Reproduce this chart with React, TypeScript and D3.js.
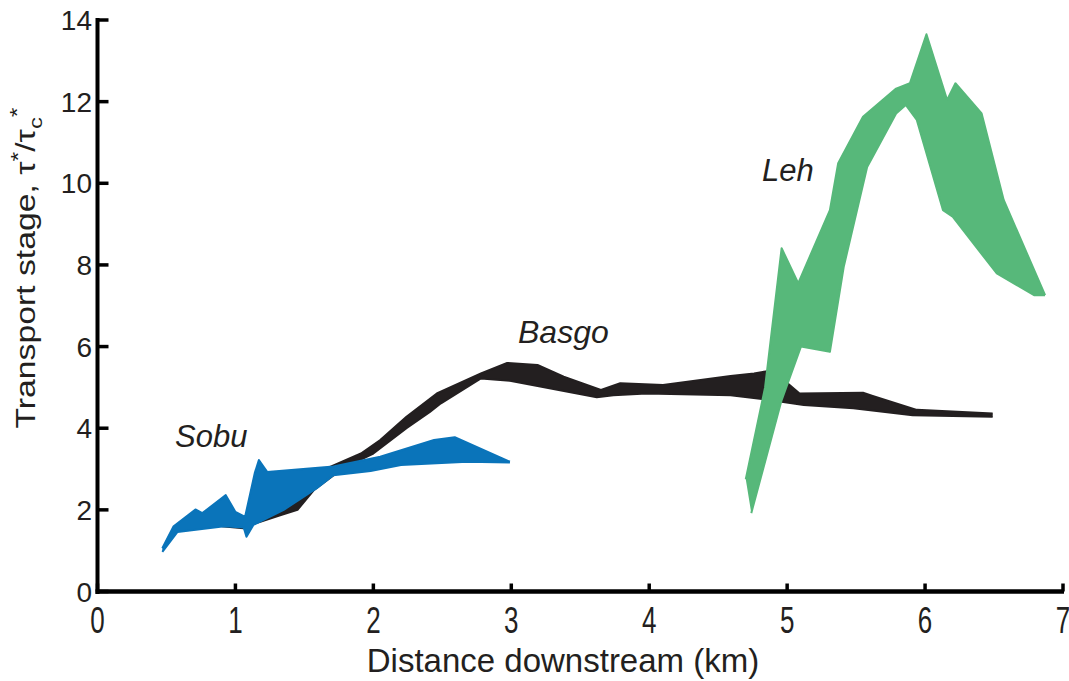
import React from "react";
import * as d3 from "d3";

// ---- data (km, transport stage) ----
const xTicks = [0, 1, 2, 3, 4, 5, 6, 7];
const yTicks = [0, 2, 4, 6, 8, 10, 12, 14];

// Sobu ensemble: first and last members
const sobuFirst: [number, number][] = [
  [0.47, 1.06], [0.55, 1.59], [0.71, 2.01], [0.76, 1.92], [0.93, 2.36], [1.0, 1.95],
  [1.07, 1.83], [1.14, 2.9], [1.17, 3.22], [1.23, 2.93], [1.71, 3.06], [2.05, 3.3],
  [2.44, 3.71], [2.59, 3.78], [2.99, 3.18],
];
const sobuLast: [number, number][] = [
  [0.47, 0.97], [0.58, 1.46], [0.92, 1.6], [1.06, 1.57], [1.08, 1.34], [1.13, 1.63],
  [1.35, 2.0], [1.59, 2.53], [1.71, 2.85], [1.98, 2.95], [2.2, 3.1], [2.68, 3.18],
  [2.99, 3.16],
];

// Basgo ensemble: upper and lower members
const basgoUpper: [number, number][] = [
  [0.9, 1.66], [1.05, 1.7], [1.2, 1.85], [1.45, 2.35], [1.69, 3.06], [1.91, 3.38],
  [2.05, 3.71], [2.24, 4.28], [2.46, 4.85], [2.78, 5.34], [2.97, 5.6], [3.19, 5.55],
  [3.38, 5.26], [3.65, 4.94], [3.79, 5.1], [4.1, 5.06], [4.59, 5.28], [4.76, 5.34],
  [4.88, 5.41], [4.99, 5.14], [5.09, 4.85], [5.55, 4.87], [5.62, 4.79], [5.94, 4.45],
  [6.49, 4.36],
];
const basgoLower: [number, number][] = [
  [0.9, 1.6], [1.06, 1.55], [1.11, 1.63], [1.18, 1.71], [1.33, 1.87], [1.45, 2.0],
  [1.57, 2.49], [1.78, 3.02], [2.0, 3.38], [2.24, 4.0], [2.41, 4.4], [2.49, 4.61],
  [2.78, 5.22], [2.99, 5.16], [3.21, 5.02], [3.62, 4.76], [3.74, 4.81], [3.98, 4.85],
  [4.59, 4.81], [4.88, 4.69], [4.96, 4.65], [5.12, 4.57], [5.48, 4.49], [5.91, 4.32],
  [6.49, 4.28],
];

// Leh ensemble: first and last members
const lehFirst: [number, number][] = [
  [4.7, 2.75], [4.84, 5.0], [4.96, 8.41], [5.08, 7.55], [5.31, 9.34], [5.37, 10.49],
  [5.55, 11.63], [5.79, 12.32], [5.89, 12.45], [6.01, 13.65], [6.16, 12.04],
  [6.22, 12.45], [6.41, 11.71], [6.57, 9.59], [6.87, 7.26],
];
const lehLast: [number, number][] = [
  [4.74, 1.92], [4.96, 4.69], [5.1, 6.0], [5.31, 5.87], [5.41, 7.95], [5.58, 10.4],
  [5.79, 11.71], [5.86, 11.92], [5.94, 11.55], [6.13, 9.34], [6.2, 9.18], [6.52, 7.79],
  [6.79, 7.26], [6.87, 7.26],
];

const bandNames = ["Sobu", "Basgo", "Leh"];

const W = 1069;
const H = 681;
const FONT = "'Liberation Sans', Arial, Helvetica, sans-serif";

export default function App() {
  const x = d3.scaleLinear().domain([0, 7]).range([97.5, 1063]);
  const y = d3.scaleLinear().domain([0, 14]).range([591.5, 20]);
  const line = d3
    .line<[number, number]>()
    .x((d) => x(d[0]))
    .y((d) => y(d[1]));

  const band = (a: [number, number][], b: [number, number][]) =>
    line([...a, ...b.slice().reverse()]) + "Z";

  const bands = [
    { a: basgoUpper, b: basgoLower, color: "#231f20" },
    { a: lehFirst, b: lehLast, color: "#57b87a" },
    { a: sobuFirst, b: sobuLast, color: "#0a74ba" },
  ];

  return (
    <svg
      width={W}
      height={H}
      style={{ position: "absolute", left: 0, top: 0, background: "#fff" }}
      fontFamily={FONT}
    >
      {bands.map((bd, i) => (
        <g key={i}>
          <path d={band(bd.a, bd.b)} fill={bd.color} stroke="none" />
          <path d={line(bd.a) || ""} fill="none" stroke={bd.color} strokeWidth={2} strokeLinejoin="round" />
          <path d={line(bd.b) || ""} fill="none" stroke={bd.color} strokeWidth={2} strokeLinejoin="round" />
        </g>
      ))}

      {/* axes */}
      <line x1={x(0)} x2={x(0)} y1={y(14) - 2} y2={y(0) + 2.5} stroke="#000" strokeWidth={4} />
      <line x1={x(0) - 2} x2={x(7) + 1} y1={y(0)} y2={y(0)} stroke="#000" strokeWidth={4.5} />
      {yTicks.map((t) => (
        <g key={"yt" + t}>
          <line x1={x(0)} x2={x(0) + 11} y1={y(t)} y2={y(t)} stroke="#000" strokeWidth={3.5} />
          <text x={92} y={y(t) + 10} textAnchor="end" fontSize={28} fill="#231f20">
            {t}
          </text>
        </g>
      ))}
      {xTicks.map((t) => (
        <g key={"xt" + t}>
          <line x1={x(t)} x2={x(t)} y1={y(0)} y2={y(0) - 8} stroke="#000" strokeWidth={3.5} />
          <text
            transform={`translate(${x(t)},${633}) scale(1,1.45)`}
            textAnchor="middle"
            fontSize={26}
            fill="#231f20"
          >
            {t}
          </text>
        </g>
      ))}

      {/* axis titles */}
      <text x={563} y={672} textAnchor="middle" fontSize={33} fill="#231f20">
        Distance downstream (km)
      </text>
      <text
        transform="translate(35,268) rotate(-90) scale(1.25,1)"
        textAnchor="middle"
        fontSize={27}
        fill="#231f20"
      >
        Transport stage, τ<tspan dy={-10} fontSize={20}>*</tspan>
        <tspan dy={10}>/τ</tspan>
        <tspan dy={7} fontSize={19}>c</tspan>
        <tspan dy={-18} fontSize={20}>*</tspan>
      </text>

      {/* band labels */}
      <text x={175} y={447} fontSize={31} fontStyle="italic" fill="#231f20">
        {bandNames[0]}
      </text>
      <text x={518} y={343} fontSize={32} fontStyle="italic" fill="#231f20">
        {bandNames[1]}
      </text>
      <text x={762} y={181} fontSize={31} fontStyle="italic" fill="#231f20">
        {bandNames[2]}
      </text>
    </svg>
  );
}
